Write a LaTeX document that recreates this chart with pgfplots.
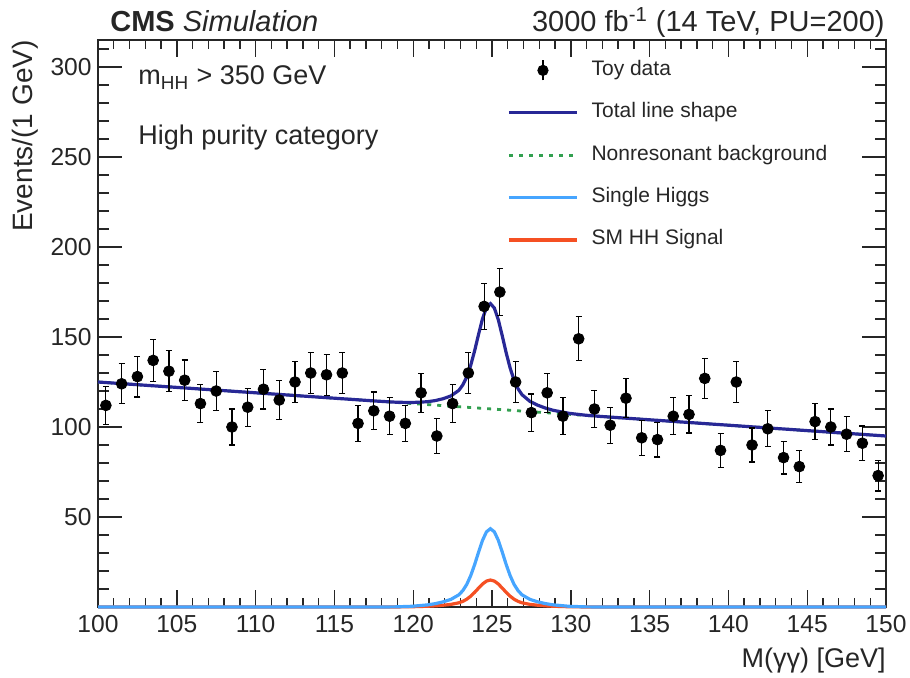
\documentclass[border=0pt]{standalone}
\usepackage{fontspec}
\setmainfont{Liberation Sans}
\usepackage{pgfplots}
\usepackage{pgfplotstable}
\pgfplotsset{compat=1.18}
\definecolor{totblue}{RGB}{40,40,150}
\definecolor{bkggreen}{RGB}{50,160,80}
\definecolor{shblue}{RGB}{70,165,255}
\definecolor{hhred}{RGB}{245,80,35}

\pgfplotstableread{
x y err
100.5 112 10.58
101.5 124 11.14
102.5 128 11.31
103.5 137 11.70
104.5 131 11.45
105.5 126 11.22
106.5 113 10.63
107.5 120 10.95
108.5 100 10.00
109.5 111 10.54
110.5 121 11.00
111.5 115 10.72
112.5 125 11.18
113.5 130 11.40
114.5 129 11.36
115.5 130 11.40
116.5 102 10.10
117.5 109 10.44
118.5 106 10.30
119.5 102 10.10
120.5 119 10.91
121.5 95 9.75
122.5 113 10.63
123.5 130 11.40
124.5 167 12.92
125.5 175 13.23
126.5 125 11.18
127.5 108 10.39
128.5 119 10.91
129.5 106 10.30
130.5 149 12.21
131.5 110 10.49
132.5 101 10.05
133.5 116 10.77
134.5 94 9.70
135.5 93 9.64
136.5 106 10.30
137.5 107 10.34
138.5 127 11.27
139.5 87 9.33
140.5 125 11.18
141.5 90 9.49
142.5 99 9.95
143.5 83 9.11
144.5 78 8.83
145.5 103 10.15
146.5 100 10.00
147.5 96 9.80
148.5 91 9.54
149.5 73 8.54
}\toydata

\pgfplotstableread{
x sh hh
100 0 0
110 0 0
117.9 0.01 0.00
118.9 0.09 0.03
119.9 0.39 0.14
120.9 1.17 0.41
121.4 1.87 0.65
121.9 2.87 0.99
122.4 4.26 1.47
122.9 6.79 2.34
123.15 9.14 3.15
123.4 12.57 4.34
123.65 17.44 6.02
123.9 23.62 8.15
124.15 30.54 10.53
124.4 37.06 12.78
124.65 41.76 14.40
124.9 43.50 15.00
125.15 41.76 14.40
125.4 37.06 12.78
125.65 30.54 10.53
125.9 23.62 8.15
126.15 17.44 6.02
126.4 12.57 4.34
126.65 9.14 3.15
126.9 6.79 2.34
127.4 4.26 1.47
127.9 2.87 0.99
128.4 1.87 0.65
128.9 1.17 0.41
129.9 0.39 0.14
130.9 0.09 0.03
131.9 0.01 0.00
140 0 0
150 0 0
}\signals

\pgfplotstableread{
x tot
100 125.00
105 122.00
110 119.00
115 116.00
117.9 114.27
118.9 113.78
119.9 113.59
120.9 114.04
121.4 114.68
121.9 115.72
122.4 117.29
122.9 120.39
123.15 123.40
123.4 127.87
123.65 134.27
123.9 142.43
124.15 151.58
124.4 160.20
124.65 166.37
124.9 168.56
125.15 166.07
125.4 159.60
125.65 150.68
125.9 141.23
126.15 132.77
126.4 126.07
126.65 121.30
126.9 117.99
127.4 114.29
127.9 112.12
128.4 110.48
128.9 109.24
129.9 107.59
130.9 106.58
131.9 105.87
140 101.00
145 98.00
150 95.00
}\total

\pgfplotstableread{
x bkg
100 125
150 95
}\bkg

\begin{document}
\begin{tikzpicture}
\useasboundingbox (-49pt,-35pt) rectangle (406pt,303.5pt);
\begin{axis}[
  at={(0pt,0pt)}, anchor=south west,
  scale only axis, width=394pt, height=283.5pt,
  xmin=100, xmax=150, ymin=0, ymax=315,
  xtick={100,105,...,150}, minor xtick={100,...,150},
  ytick={50,100,...,300}, minor ytick={0,10,...,310},
  tick align=inside, tick pos=both,
  xtick style={/pgfplots/major tick length=8.5pt,/pgfplots/minor tick length=4.5pt},
  ytick style={/pgfplots/major tick length=12pt,/pgfplots/minor tick length=5.5pt},
  axis line style={line width=0.9pt, black!85},
  tick style={line width=0.7pt, black!85},
  /pgf/number format/assume math mode=true,
  ticklabel style={font=\fontsize{12.3}{14}\selectfont, text=black!85},
  xticklabel style={inner sep=0pt, yshift=-4pt},
  yticklabel style={inner sep=0pt, xshift=-3pt},
  every axis x label/.style={at={(axis description cs:1,0)}, anchor=base east, yshift=-30pt, font=\fontsize{13.5}{16}\selectfont, text=black!85, inner sep=0pt},
  every axis y label/.style={at={(axis description cs:-0.0825,1)}, anchor=base east, rotate=90, font=\fontsize{14}{16}\selectfont, text=black!85, inner sep=0pt},
  xlabel={M(γγ) [GeV]},
  ylabel={Events/(1 GeV)},
  clip=false,
  legend cell align=left,
  legend style={at={(axis description cs:0.519,0.9665)}, anchor=north west, draw=none, fill=none, inner sep=0pt, row sep=10.2pt, font=\fontsize{10.5}{12}\selectfont, text=black!85, nodes={inner sep=0pt, text height=8pt, text depth=3pt}},
  legend image code/.code={\draw[#1] (0pt,0pt) -- (34pt,0pt); \path (40.5pt,0pt);},
]
\addlegendimage{black, legend image code/.code={\draw[black,line width=0.6pt] (17pt,-5pt) -- (17pt,5pt); \fill[black] (17pt,0pt) circle (2.6pt); \path (40.5pt,0pt);}}
\addlegendentry{Toy data}
\addlegendimage{totblue, line width=1.6pt}
\addlegendentry{Total line shape}
\addlegendimage{bkggreen, line width=1.4pt, dash pattern=on 2pt off 3pt}
\addlegendentry{Nonresonant background}
\addlegendimage{shblue, line width=1.6pt}
\addlegendentry{Single Higgs}
\addlegendimage{hhred, line width=1.6pt}
\addlegendentry{SM HH Signal}

\addplot[forget plot, bkggreen, line width=1.4pt, dash pattern=on 2pt off 3pt] table[x=x, y=bkg] {\bkg};
\addplot[forget plot, hhred, line width=1.6pt] table[x=x, y=hh] {\signals};
\addplot[forget plot, shblue, line width=1.6pt] table[x=x, y=sh] {\signals};
\addplot[forget plot, totblue, line width=1.6pt] table[x=x, y=tot] {\total};
\addplot[forget plot, black, only marks, mark=*, mark size=2.7pt,
  error bars/.cd, y dir=both, y explicit,
  error bar style={line width=0.6pt, black},
  error mark options={line width=0.6pt, mark size=1.5pt, black, rotate=90}]
  table[x=x, y=y, y error=err] {\toydata};

\node[anchor=base west, inner sep=0pt, font=\fontsize{14.5}{17}\selectfont, text=black!85] at (rel axis cs:0,1) [xshift=6pt, yshift=4pt] {\textbf{CMS} \textit{Simulation}};
\node[anchor=base east, inner sep=0pt, font=\fontsize{14.5}{17}\selectfont, text=black!85] at (rel axis cs:1,1) [xshift=-0.5pt, yshift=4pt] {3000 fb\textsuperscript{-1} (14 TeV, PU=200)};
\node[anchor=base west, inner sep=0pt, font=\fontsize{13.5}{16}\selectfont, text=black!85] at (rel axis cs:0,1) [xshift=20pt, yshift=-22.5pt] {m\textsubscript{HH} > 350 GeV};
\node[anchor=base west, inner sep=0pt, font=\fontsize{13.5}{16}\selectfont, text=black!85] at (rel axis cs:0,1) [xshift=20pt, yshift=-52.5pt] {High purity category};
\end{axis}
\end{tikzpicture}
\end{document}
